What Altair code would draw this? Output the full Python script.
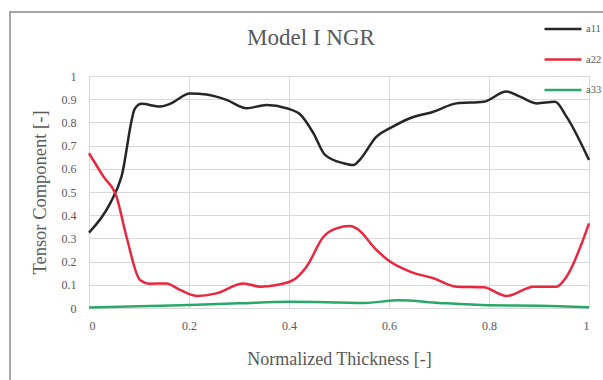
import altair as alt
import pandas as pd

# ---- data ----
a11_x = [0, 0.042, 0.065, 0.092, 0.105, 0.142, 0.162, 0.202, 0.235, 0.275, 0.315, 0.355, 0.395, 0.422,
         0.449, 0.472, 0.509, 0.529, 0.542, 0.575, 0.602, 0.642, 0.689, 0.735, 0.789, 0.835, 0.862,
         0.895, 0.932, 0.955, 1.0]
a11_y = [0.325, 0.45, 0.566, 0.86, 0.88, 0.868, 0.88, 0.925, 0.92, 0.897, 0.861, 0.875, 0.861, 0.835,
         0.753, 0.66, 0.624, 0.616, 0.64, 0.739, 0.775, 0.818, 0.846, 0.882, 0.889, 0.933, 0.911,
         0.882, 0.889, 0.825, 0.638]

a22_x = [0, 0.029, 0.055, 0.075, 0.102, 0.122, 0.155, 0.182, 0.215, 0.255, 0.309, 0.342, 0.375, 0.409,
         0.435, 0.469, 0.495, 0.522, 0.535, 0.575, 0.602, 0.642, 0.689, 0.735, 0.789, 0.835, 0.889,
         0.935, 0.955, 1.0]
a22_y = [0.667, 0.566, 0.48, 0.307, 0.121, 0.105, 0.106, 0.078, 0.052, 0.063, 0.106, 0.092, 0.099, 0.121,
         0.178, 0.307, 0.343, 0.353, 0.343, 0.25, 0.2, 0.157, 0.128, 0.092, 0.089, 0.052, 0.092,
         0.092, 0.135, 0.365]

a33_x = [0, 0.1, 0.2, 0.3, 0.4, 0.5, 0.55, 0.62, 0.7, 0.8, 0.9, 1.0]
a33_y = [0.002, 0.008, 0.013, 0.02, 0.027, 0.024, 0.022, 0.033, 0.022, 0.012, 0.01, 0.003]

series_names = ["a11", "a22", "a33"]
series_colors = ["#262626", "#e8283f", "#2aa86a"]

title_text = "Model I NGR"
x_title = "Normalized Thickness [-]"
y_title = "Tensor Component [-]"
x_ticks = [0, 0.2, 0.4, 0.6, 0.8, 1]
y_ticks = [0, 0.1, 0.2, 0.3, 0.4, 0.5, 0.6, 0.7, 0.8, 0.9, 1]

rows = []
for name, xs, ys in [("a11", a11_x, a11_y), ("a22", a22_x, a22_y), ("a33", a33_x, a33_y)]:
    for xv, yv in zip(xs, ys):
        rows.append({"series": name, "x": xv, "y": yv})
df = pd.DataFrame(rows)

FONT = "Liberation Serif"
GRAY = "#595959"

lines = alt.Chart(df).mark_line(strokeWidth=2.5, interpolate="monotone").encode(
    x=alt.X("x:Q", scale=alt.Scale(domain=[0, 1], nice=False),
            axis=alt.Axis(values=x_ticks, format="~g", title=x_title, grid=True,
                          domain=False, ticks=False, labelPadding=12, titlePadding=19,
                          labelFont=FONT, titleFont=FONT,
                          labelFontSize=12, titleFontSize=18)),
    y=alt.Y("y:Q", scale=alt.Scale(domain=[0, 1], nice=False),
            axis=alt.Axis(values=y_ticks, format="~g", title=y_title, grid=True,
                          domain=False, ticks=False, labelPadding=13, titlePadding=12,
                          labelFont=FONT, titleFont=FONT,
                          labelFontSize=12, titleFontSize=18.5)),
    color=alt.Color("series:N",
                    scale=alt.Scale(domain=series_names, range=series_colors),
                    legend=alt.Legend(orient="none", legendX=454, legendY=-67, title=None,
                                      symbolType="stroke", symbolStrokeWidth=2.5,
                                      symbolSize=1369, labelFontSize=10.5, labelFont=FONT,
                                      labelColor=GRAY, rowPadding=4.5, padding=0,
                                      labelOffset=3)),
    order="x:Q",
)

frame = alt.Chart(pd.DataFrame({"k": [0]})).mark_rect(
    fill=None, stroke="#a6a6a6", strokeWidth=2
).encode(
    x=alt.value(-79), x2=alt.value(560), y=alt.value(-64), y2=alt.value(320)
)

chart = alt.layer(frame, lines).properties(
    width=500, height=232,
    background="white",
    title=alt.TitleParams(title_text, font=FONT, fontSize=23, fontWeight="normal",
                          color=GRAY, anchor="middle", dx=-28, offset=-41),
    autosize=alt.AutoSizeParams(type="none"),
    padding={"left": 89, "top": 76, "right": 14, "bottom": 72},
).configure_view(stroke=None).configure_axis(
    labelFont=FONT, titleFont=FONT, labelColor=GRAY, titleColor=GRAY,
    titleFontWeight="normal", gridColor="#d9d9d9", gridWidth=1
)

chart.save("out.html", embed_options={"renderer": "svg", "actions": False})
